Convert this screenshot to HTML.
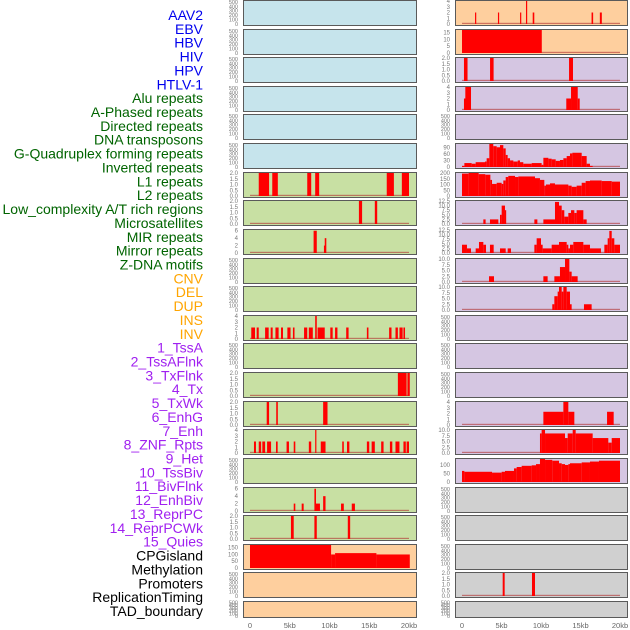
<!DOCTYPE html>
<html><head><meta charset="utf-8"><style>
html,body{margin:0;padding:0;background:#fff;}
svg{display:block;font-family:"Liberation Sans",sans-serif;}
</style></head><body>
<svg id="chart" width="630" height="630" viewBox="0 0 630 630"></svg>
<script>
// ---- data ----
const trackLabels = ["AAV2","EBV","HBV","HIV","HPV","HTLV-1","Alu repeats","A-Phased repeats","Directed repeats","DNA transposons","G-Quadruplex forming repeats","Inverted repeats","L1 repeats","L2 repeats","Low_complexity A/T rich regions","Microsatellites","MIR repeats","Mirror repeats","Z-DNA motifs","CNV","DEL","DUP","INS","INV","1_TssA","2_TssAFlnk","3_TxFlnk","4_Tx","5_TxWk","6_EnhG","7_Enh","8_ZNF_Rpts","9_Het","10_TssBiv","11_BivFlnk","12_EnhBiv","13_ReprPC","14_ReprPCWk","15_Quies","CPGisland","Methylation","Promoters","ReplicationTiming","TAD_boundary"];
const labelGroups = [6,13,5,15,5];
const xTicks = [0,5,10,15,20];
const xTickLabels = ["0","5kb","10kb","15kb","20kb"];

const tEmpty = ["0","100","200","300","400","500"];
const t2 = ["0.0","0.5","1.0","1.5","2.0"];
const t4 = ["0","1","2","3","4"];
const t6 = ["0","2","4","6"];
const t17 = ["0","5","10","15"];
const t105 = ["0","30","60","90"];
const t200 = ["0","50","100","150","200"];
const t125 = ["0.0","2.5","5.0","7.5","10.0","12.5"];
const t10 = ["0.0","2.5","5.0","7.5","10.0"];
const t135 = ["0","50","100"];
const t170 = ["0","50","100","150"];

// segments: [startKb, endKb, value]
const L6 = [[1.1,2.4,2],[2.8,3.5,2],[7.2,7.7,2],[8.2,8.7,2],[17.2,18.1,2],[19.1,20,2]];
const L7 = [[13.7,14.1,2],[15.7,16.0,2]];
const L8 = [[8.0,8.4,6],[9.3,9.4,2],[9.4,9.6,4]];
const L11 = [[0.16,0.63,2],[0.84,1.1,2],[1.9,2.35,2],[2.6,2.85,2],[3.2,3.6,2],[3.9,4.15,2],[4.7,5.1,2],[5.4,5.6,2],[6.8,7.2,2],[7.4,7.9,2],[8.5,9.4,2],[10.1,10.4,2],[10.7,11.0,2],[12.1,12.4,2],[14.7,14.9,2],[17.5,17.8,2],[18.3,18.6,2],[18.8,19.2,2],[19.3,19.5,2],[8.2,8.4,4]];
const L13 = [[18.6,19.7,2],[19.8,20.1,2]];
const L14 = [[2.1,2.4,2],[3.3,3.5,2],[9.2,9.75,2]];
const L15 = [[0.5,0.75,2],[1.1,1.4,2],[1.55,1.9,2],[2.15,2.65,2],[3.27,3.48,2],[4.6,4.9,2],[5.5,5.7,2],[7.4,7.7,2],[8.9,9.5,2],[11.6,11.8,2],[12.2,12.5,2],[14.7,15.0,2],[15.3,15.7,2],[16.5,16.8,2],[17.6,17.9,2],[18.3,18.8,2],[19.3,19.6,2],[19.7,20.0,2],[8.2,8.3,4]];
const L17 = [[5.5,5.7,2],[6.5,6.75,2],[8.1,8.3,6],[8.3,8.8,2],[9.2,9.5,4],[11.45,11.8,2],[12.8,13.2,2]];
const L18 = [[5.15,5.5,2],[8.1,8.4,2],[12.3,12.6,2]];
const L19 = [[0,10.2,170],[10.2,10.7,100],[10.7,15.9,110],[15.9,20.1,100]];

const R0 = [[1.65,1.8,2],[4.55,4.7,2],[7.35,7.5,2],[8.1,8.25,4],[8.95,9.15,2],[16.4,16.6,2],[17.45,17.7,2]];
const R1 = [[0,10.1,17]];
const R2 = [[0.25,0.7,2],[3.55,4.0,2],[13.55,14.05,2]];
const R3 = [[0.25,0.45,2],[0.42,1.14,4],[13.2,13.8,2],[13.8,14.65,4],[14.65,14.9,2]];
const R5 = [[0,0.3,5],[0.3,1.22,18],[1.22,1.73,15],[1.73,2.91,22],[2.91,3.12,25],[3.12,3.46,40],[3.46,3.96,105],[3.96,4.39,95],[4.39,4.81,90],[4.81,5.23,100],[5.23,5.53,85],[5.53,5.78,55],[5.78,6.08,40],[6.08,6.5,30],[6.5,7.05,25],[7.05,7.34,30],[7.34,7.76,22],[7.76,8.82,15],[8.82,10.08,18],[10.08,10.3,10],[10.3,10.93,42],[10.93,11.35,38],[11.35,11.86,35],[11.86,12.4,28],[12.4,12.83,32],[12.83,13.25,40],[13.25,13.67,50],[13.67,13.97,62],[13.97,15.15,65],[15.15,15.78,50],[15.78,16.2,15],[16.2,16.54,5]];
const R6 = [[0,0.84,195],[0.84,2.11,200],[2.11,2.95,190],[2.95,3.59,185],[3.59,3.8,140],[3.8,4.39,105],[4.39,5.02,115],[5.02,5.23,105],[5.23,5.53,135],[5.53,5.86,165],[5.86,6.71,175],[6.71,7.13,165],[7.13,9.24,170],[9.24,9.87,155],[9.87,10.42,140],[10.42,10.63,90],[10.63,11.14,100],[11.14,11.77,110],[11.77,13.46,100],[13.46,13.88,90],[13.88,14.51,80],[14.51,15.15,90],[15.15,15.65,115],[15.65,16.2,130],[16.2,17.68,135],[17.68,18.95,130],[18.95,20.0,125]];
const R7 = [[2.7,2.99,2.5],[3.54,4.6,2.5],[4.81,5.02,5],[5.02,5.44,10],[5.44,5.57,7.5],[9.16,9.54,2.5],[10.3,11.77,2.5],[11.77,12.28,12],[12.28,12.62,10],[12.62,12.95,7.5],[12.95,13.46,4],[13.46,13.8,6],[13.8,14.22,7.5],[14.22,14.51,6],[14.51,15.36,7.5],[15.36,15.78,2.5]];
const R8 = [[0,0.63,4.5],[0.63,1.14,2.5],[1.73,2.15,2.5],[2.15,2.7,6],[2.7,3.04,4.5],[3.54,4.01,4.5],[4.81,5.53,2.5],[5.78,6.2,2.5],[9.16,9.45,4.5],[9.45,10.0,8],[10.0,10.21,4.5],[10.21,11.35,2.5],[11.35,12.28,4.5],[12.28,13.25,6],[13.25,13.46,4.5],[13.46,13.67,2.5],[13.67,14.09,4.5],[14.09,15.36,6],[15.36,16.2,4.5],[16.2,17.59,2.5],[18.02,18.44,4.5],[18.44,18.65,8],[18.65,18.95,12],[18.95,19.28,8],[19.28,20,4.5]];
const R9 = [[3.42,4.05,2.5],[10.3,10.84,2.5],[11.69,12.4,2.5],[12.4,13.04,6.5],[13.04,13.59,10],[13.59,13.88,4.5],[13.88,14.64,2.5]];
const R10 = [[11.43,11.69,2.5],[11.69,12.11,6],[12.11,12.28,8],[12.28,12.62,10],[12.62,12.83,8],[12.83,13.25,10],[13.25,13.67,8],[13.67,13.88,2.5],[15.44,16.41,2.5]];
const R14 = [[10.3,12.83,2.3],[12.83,13.46,4],[13.46,14.22,2.3],[18.36,19.2,2.3]];
const R15 = [[9.87,10.08,8.5],[10.08,10.51,10],[10.51,13.04,8.5],[13.04,13.38,6.5],[13.38,14.01,8.5],[14.01,14.39,10],[14.39,16.54,8.5],[16.54,18.52,6.5],[18.52,18.95,4.5],[18.95,20,6.5]];
const R16 = [[0,0.3,65],[0.3,3.8,60],[3.8,5.02,55],[5.02,5.44,60],[5.44,6.58,65],[6.58,6.92,80],[6.92,7.55,88],[7.55,8.82,95],[8.82,9.37,98],[9.37,9.87,105],[9.87,10.51,135],[10.51,11.43,130],[11.43,12.28,125],[12.28,12.62,110],[12.62,13.04,105],[13.04,13.46,100],[13.46,13.67,105],[13.67,15.15,110],[15.15,16.2,115],[16.2,17.34,120],[17.34,20,125]];
const R20 = [[5.15,5.4,2],[8.86,9.24,2]];

const BLUE="#c6e4ec",GREEN="#c8e0a3",ORANGE="#fecf9e",PURPLE="#d5c6e2",GRAY="#d0d0d0";
// [column, row, bg, ticks, yMax, segments]
const panels = [
 [0,0,BLUE,tEmpty,520,null],[0,1,BLUE,tEmpty,520,null],[0,2,BLUE,tEmpty,520,null],[0,3,BLUE,tEmpty,520,null],[0,4,BLUE,tEmpty,520,null],[0,5,BLUE,tEmpty,520,null],
 [0,6,GREEN,t2,2,L6],[0,7,GREEN,t2,2,L7],[0,8,GREEN,t6,6.2,L8],[0,9,GREEN,tEmpty,520,null],[0,10,GREEN,tEmpty,520,null],
 [0,11,GREEN,t4,4,L11],[0,12,GREEN,tEmpty,520,null],[0,13,GREEN,t2,2,L13],[0,14,GREEN,t2,2,L14],[0,15,GREEN,t4,4,L15],
 [0,16,GREEN,tEmpty,520,null],[0,17,GREEN,t6,6.2,L17],[0,18,GREEN,t2,2,L18],
 [0,19,ORANGE,t170,170,L19],[0,20,ORANGE,tEmpty,520,null],[0,21,ORANGE,tEmpty,520,null],
 [1,0,ORANGE,t4,4,R0],[1,1,ORANGE,t17,17,R1],[1,2,PURPLE,t2,2,R2],[1,3,PURPLE,t4,4,R3],[1,4,PURPLE,tEmpty,520,null],
 [1,5,PURPLE,t105,105,R5],[1,6,PURPLE,t200,200,R6],[1,7,PURPLE,t125,12.5,R7],[1,8,PURPLE,t125,12.5,R8],[1,9,PURPLE,t10,10,R9],[1,10,PURPLE,t10,10,R10],
 [1,11,PURPLE,tEmpty,520,null],[1,12,PURPLE,tEmpty,520,null],[1,13,PURPLE,tEmpty,520,null],[1,14,PURPLE,t4,4,R14],[1,15,PURPLE,t10,10,R15],[1,16,PURPLE,t135,135,R16],
 [1,17,GRAY,tEmpty,520,null],[1,18,GRAY,tEmpty,520,null],[1,19,GRAY,tEmpty,520,null],[1,20,GRAY,t2,2,R20],[1,21,GRAY,tEmpty,520,null]
];

// ---- drawing ----
const NS="http://www.w3.org/2000/svg";
const svg=document.getElementById('chart');
function mk(tag,attrs,parent){const e=document.createElementNS(NS,tag);for(const k in attrs)e.setAttribute(k,attrs[k]);(parent||svg).appendChild(e);return e;}
const colBox=[{x0:243,x1:416,z:250,s:7.95,tx:238},{x0:455,x1:627,z:462,s:7.9,tx:450}];
function rowTop(r){return Math.round(r*28.62);}
function rowH(r){return r===21?16:25;}
function xScale(c,kb){return colBox[c].z+kb*colBox[c].s;}

// labels
const labelColors=["#0000ee","#006400","#ffa500","#a020f0","#000000"];
let li=0;
labelGroups.forEach((n,g)=>{for(let k=0;k<n;k++){const i=li++;
 const t=mk('text',{x:203,y:15+i*13.86+5,'text-anchor':'end','font-size':14,fill:labelColors[g]});
 t.textContent=trackLabels[i];
 
 
}});

panels.forEach(p=>{
 const [c,r,bg,ticks,yMax,segs]=p;const b=colBox[c];
 const top=rowTop(r),h=rowH(r),bot=top+h;
 const g=mk('g',{});
 
 
 const rect=mk('rect',{x:b.x0+0.5,y:top+0.5,width:b.x1-b.x0,height:h,fill:bg,stroke:'none'},g);
 
 
 const yS=v=>bot-1-v/yMax*(h-2);
 if(segs){
  const bl=mk('rect',{x:xScale(c,0),y:yS(0)-1.2,width:xScale(c,20)-xScale(c,0),height:1.2,fill:'#b03030',opacity:0.6},g);
  
  
  segs.forEach(s=>{
   const x0=xScale(c,s[0]),x1=xScale(c,s[1]);
   const bar=mk('rect',{x:x0,y:yS(s[2]),width:Math.max(1.2,x1-x0),height:yS(0)-yS(s[2]),fill:'#ff0000'},g);
   
   
  });
 }
 const br=mk('rect',{x:b.x0+0.5,y:top+0.5,width:b.x1-b.x0,height:h,fill:'none',stroke:'#5a5a5a','stroke-width':1},g);
 
 
 ticks.forEach(tk=>{
  const v=parseFloat(tk);
  const t=mk('text',{x:b.tx,y:yS(v)+2,'text-anchor':'end','font-size':tEmpty===ticks?5.5:6,fill:'#777'},g);
  t.textContent=tk;
  
  
 });
});

// x axes
[0,1].forEach(c=>{
 xTicks.forEach((v,i)=>{
  const t=mk('text',{x:xScale(c,v),y:628,'text-anchor':'middle','font-size':7.5,fill:'#666'});
  t.textContent=xTickLabels[i];
  
  
 });
});
</script>
</body></html>
